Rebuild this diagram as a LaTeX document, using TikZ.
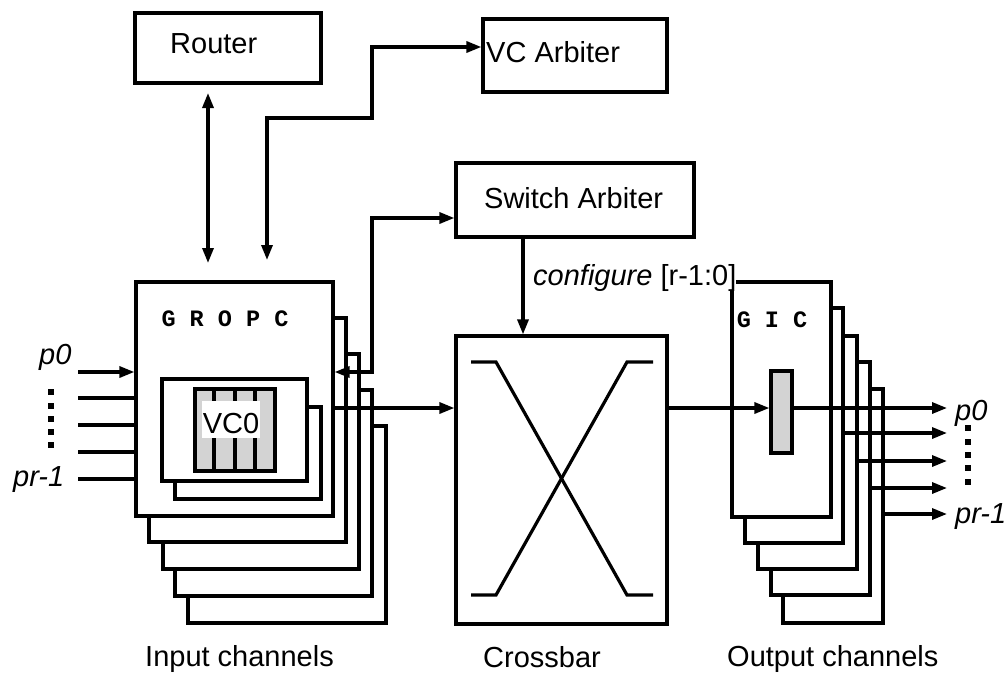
\documentclass[tikz,border=0pt]{standalone}
\usepackage{fontspec}
\setmainfont{Liberation Sans}
\newfontfamily\monofam{Liberation Mono}
\usetikzlibrary{arrows.meta,fit}
\definecolor{cellgray}{RGB}{211,211,211}
\begin{document}
\begin{tikzpicture}[x=1pt,y=-1pt,
  >={Triangle[length=15pt,width=11pt]},
  box/.style={draw=black, line width=3.2pt, fill=white, inner sep=0pt},
  conn/.style={draw=black, line width=3.2pt},
  lbl/.style={inner sep=0pt, font=\fontsize{29}{34}\selectfont},
  mono/.style={inner sep=0pt, font=\fontsize{23.5}{28}\selectfont\monofam\bfseries},
  dotsq/.style={fill=black}]
\fill[white] (0,0) rectangle (1008,672);
\useasboundingbox (0,0) rectangle (1008,672);

% top boxes
\node[box, fit={(135,13) (321,83)}] (router) {};
\node[lbl, anchor=base west] (routerT) at (170,53) {Router};
\node[box, fit={(483,19) (667,92)}] (vcarb) {};
\node[lbl, anchor=base west] (vcarbT) at (486,62) {VC Arbiter};
\node[box, fit={(456,163) (694,237)}] (swarb) {};
\node[lbl, anchor=base west] (swarbT) at (484,208) {Switch Arbiter};

% input channel stack
\node[box, fit={(188,426) (386,623)}] (in5) {};
\node[box, fit={(175,390) (372,596)}] (in4) {};
\node[box, fit={(163,354) (359,569)}] (in3) {};
\node[box, fit={(149,318) (346,542)}] (in2) {};
\node[box, fit={(136,282) (333,516)}] (in1) {};
\node[mono, anchor=base] (gropc) at (225,326) {G R O P C};
\node[box, fit={(175,407) (321,499)}] (vcback) {};
\node[box, fit={(162,379) (307,481)}] (vcfront) {};
\node[box, fill=cellgray, fit={(195,389) (275,471)}] (buf) {};
\foreach \xx in {214,235,255} \draw[conn] (\xx,389) -- (\xx,471);
\node[fill=white, inner sep=0pt, minimum width=58pt, minimum height=37pt] (vc0bg) at (231,419.5) {};
\node[lbl, anchor=base] (vc0) at (231,433) {VC0};

% crossbar
\node[box, fit={(456,336) (667,624)}] (crossbar) {};
\draw[conn] (471,362) -- (496,362) -- (627,595) -- (653,595);
\draw[conn] (653,362) -- (627,362) -- (496,595) -- (471,595);

% output channel stack
\node[box, fit={(783,389) (883,623)}] (out5) {};
\node[box, fit={(771,362) (870,595)}] (out4) {};
\node[box, fit={(758,336) (857,569)}] (out3) {};
\node[box, fit={(745,308) (843,543)}] (out2) {};
\node[box, fit={(732,282) (831,517)}] (out1) {};
\node[mono, anchor=base] (gic) at (772,327) {G I C};
\node[box, fill=cellgray, fit={(771,371) (792,453)}] (bar) {};

% labels
\node[lbl, anchor=base west, fill=white] (cfgT) at (533,285) {{\itshape configure} [r-1:0]};
\node[lbl, anchor=base west] (inT) at (145,666) {Input channels};
\node[lbl, anchor=base west] (cbT) at (483,667) {Crossbar};
\node[lbl, anchor=base west] (outT) at (727,666) {Output channels};
\node[lbl, anchor=base west] (p0L) at (39,364) {\itshape p0};
\node[lbl, anchor=base west] (prL) at (13,486) {\itshape pr-1};
\node[lbl, anchor=base west] (p0R) at (955,420) {\itshape p0};
\node[lbl, anchor=base west] (prR) at (955,523) {\itshape pr-1};

% dots
\foreach \yy in {392,406,419,432,445} \fill[dotsq] (48,\yy-3) rectangle (54,\yy+3);
\foreach \yy in {428,442,455,468,482} \fill[dotsq] (965,\yy-3) rectangle (971,\yy+3);

% connectors
\coordinate (rtA) at (208,93);
\coordinate (rtB) at (208,263);
\draw[conn, <->] (rtA) -- (rtB);

\coordinate (vcA) at (267,260);
\coordinate (vcB) at (267,118);
\coordinate (vcC) at (372,118);
\coordinate (vcD) at (372,47);
\draw[conn, <->] (vcA) -- (vcB) -- (vcC) -- (vcD) -- (vcD -| vcarb.west);

\coordinate (swA) at (372,372);
\coordinate (swB) at (372,218);
\draw[conn, <->] (swA -| in1.east) -- (swA) -- (swB) -- (swB -| swarb.west);

\coordinate (cfg) at (523,0);
\draw[conn, ->] (swarb.south -| cfg) -- (crossbar.north -| cfg);

\coordinate (mid) at (0,408);
\draw[conn, ->] (in1.east |- mid) -- (crossbar.west |- mid);
\draw[conn, ->] (crossbar.east |- mid) -- (bar.west |- mid);
\coordinate (o1) at (947,408);
\draw[conn, ->] (bar.east |- o1) -- (o1);
\coordinate (o2) at (947,433);
\coordinate (o3) at (947,461);
\coordinate (o4) at (947,488);
\coordinate (o5) at (947,514);
\draw[conn, ->] (o2 -| out2.east) -- (o2);
\draw[conn, ->] (o3 -| out3.east) -- (o3);
\draw[conn, ->] (o4 -| out4.east) -- (o4);
\draw[conn, ->] (o5 -| out5.east) -- (o5);

\coordinate (i1) at (78,372);
\coordinate (i2) at (78,398);
\coordinate (i3) at (78,425);
\coordinate (i4) at (78,452);
\coordinate (i5) at (78,479);
\draw[conn, ->] (i1) -- (i1 -| in1.west);
\draw[conn] (i2) -- (i2 -| in1.west);
\draw[conn] (i3) -- (i3 -| in1.west);
\draw[conn] (i4) -- (i4 -| in1.west);
\draw[conn] (i5) -- (i5 -| in1.west);
\end{tikzpicture}
\end{document}
